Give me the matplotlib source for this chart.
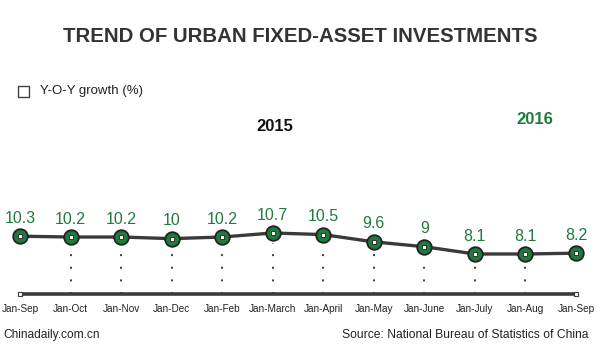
import matplotlib
matplotlib.use('Agg')
import matplotlib.pyplot as plt

plt.rcParams['font.family'] = ['Liberation Sans', 'DejaVu Sans']

# Datos
periodos = ['Jan-Sep', 'Jan-Oct', 'Jan-Nov', 'Jan-Dec', 'Jan-Feb', 'Jan-March',
            'Jan-April', 'Jan-May', 'Jan-June', 'Jan-July', 'Jan-Aug', 'Jan-Sep']
crecimiento = [10.3, 10.2, 10.2, 10, 10.2, 10.7, 10.5, 9.6, 9, 8.1, 8.1, 8.2]
etiquetas = ['10.3', '10.2', '10.2', '10', '10.2', '10.7', '10.5', '9.6', '9', '8.1', '8.1', '8.2']

verde = '#1f7a3e'
gris = '#3a3a3a'

fig = plt.figure(figsize=(6, 3.57), dpi=100)
ax = fig.add_axes([20 / 600, 63 / 357, 556 / 600, 94 / 357])
x = list(range(len(crecimiento)))
ax.set_xlim(0, len(crecimiento) - 1)
ax.set_ylim(3.15, 14.78)
ax.axis('off')

# Lineas punteadas hasta el eje
for i in x[1:-1]:
    ax.plot([i, i], [3.15, crecimiento[i] - 1.2], color=gris, lw=1.4,
            linestyle=(0, (1, 5.5)), clip_on=False)

# Eje horizontal
ax.plot([0, len(x) - 1], [3.15, 3.15], color=gris, lw=2.6, clip_on=False, zorder=2)
ax.plot([0, len(x) - 1], [3.15, 3.15], ls='none', marker='s', ms=3.5,
        mfc='white', mec=gris, mew=0.8, clip_on=False, zorder=3)

# Linea principal
ax.plot(x, crecimiento, color=gris, lw=2.4, zorder=3, clip_on=False)
ax.plot(x, crecimiento, ls='none', marker='o', ms=10.5, mfc=verde, mec='#222222',
        mew=1.3, zorder=4, clip_on=False)
ax.plot(x, crecimiento, ls='none', marker='s', ms=3.2, mfc='white', mec='#222222',
        mew=0.6, zorder=5, clip_on=False)

for i, v in enumerate(crecimiento):
    ax.annotate(etiquetas[i], (i, v), xytext=(0, 7.5), textcoords='offset points',
                ha='center', va='bottom', color=verde, fontsize=11.5)
    ax.annotate(periodos[i], (i, 3.15), xytext=(0, -7.5), textcoords='offset points',
                ha='center', va='top', color='#222222', fontsize=7.2)

# Textos
fig.text(0.5, 1 - 37 / 357, 'TREND OF URBAN FIXED-ASSET INVESTMENTS', ha='center',
         va='center', fontsize=14.7, fontweight='bold', color='#333333')
fig.patches.append(plt.Rectangle((18 / 600, 1 - 97 / 357), 11 / 600, 11 / 357,
                                 transform=fig.transFigure, fill=False,
                                 edgecolor='#444444', lw=1))
fig.text(40 / 600, 1 - 91 / 357, 'Y-O-Y growth (%)', ha='left', va='center',
         fontsize=9.5, color='#222222')
fig.text(275 / 600, 1 - 126 / 357, '2015', ha='center', va='center',
         fontsize=12, fontweight='bold', color='#111111')
fig.text(535 / 600, 1 - 120 / 357, '2016', ha='center', va='center',
         fontsize=12, fontweight='bold', color=verde)
fig.text(3 / 600, 1 - 335 / 357, 'Chinadaily.com.cn', ha='left', va='center',
         fontsize=8.6, color='#222222')
fig.text(589 / 600, 1 - 335 / 357, 'Source: National Bureau of Statistics of China',
         ha='right', va='center', fontsize=8.75, color='#222222')

fig.savefig('out.png', dpi=100)
